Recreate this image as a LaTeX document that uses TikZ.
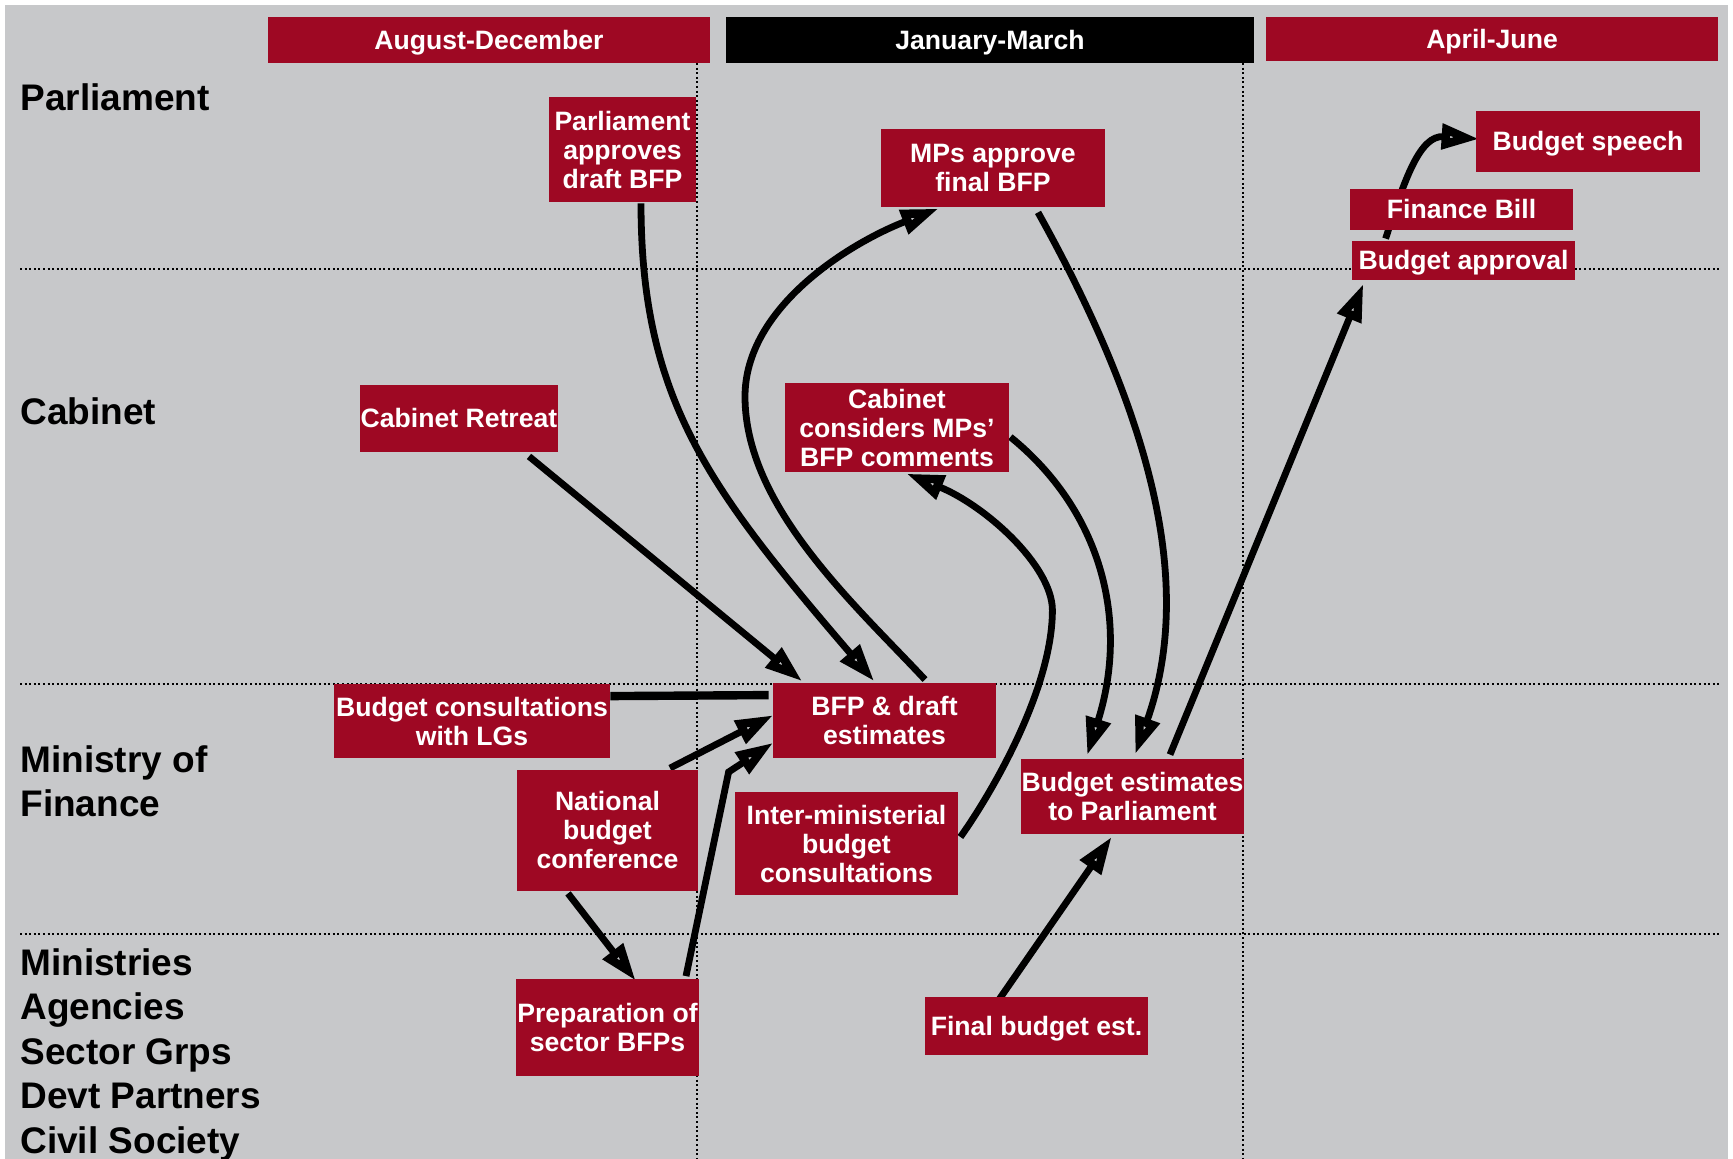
\documentclass[tikz,border=0pt]{standalone}
\usepackage{fontspec}
\setmainfont{Liberation Sans}
\usetikzlibrary{arrows.meta,calc}
\definecolor{bgray}{RGB}{199,200,202}
\definecolor{bred}{RGB}{158,8,35}
\pgfdeclarelayer{bg}
\pgfdeclarelayer{arr}
\pgfsetlayers{bg,arr,main}
\begin{document}
\begin{tikzpicture}[x=0.5pt,y=-0.5pt,
  box/.style={fill=bred, text=white, inner sep=0pt, align=center, font=\bfseries\fontsize{13.3}{14.5}\selectfont},
  oneline/.style={text height=9.5pt, text depth=0pt},
  hdr/.style={box, oneline},
  lbl/.style={anchor=base west, inner sep=0pt, font=\bfseries\fontsize{18.5}{22}\selectfont},
  dotline/.style={line width=1pt, dash pattern=on 1pt off 1.3pt},
  flow/.style={line width=3.4pt, -{Triangle[open,length=19pt,width=12pt,line width=4.2pt]}},
  plainflow/.style={line width=4.2pt},
]
\useasboundingbox (0,0) rectangle (1733,1159);
\begin{pgfonlayer}{bg}
\fill[white] (0,0) rectangle (1733,1159);
\fill[bgray] (5,5) rectangle (1728,1159);
\draw[dotline] (697,63) -- (697,1159);
\draw[dotline] (1243,63) -- (1243,1159);
\draw[dotline] (20,269) -- (1720,269);
\draw[dotline] (20,684) -- (1720,684);
\draw[dotline] (20,934) -- (1720,934);
\end{pgfonlayer}

% headers
\node[hdr, minimum width=221pt, minimum height=23pt] (h1) at (489,40) {August-December};
\node[hdr, fill=black, minimum width=264pt, minimum height=23pt] (h2) at (990,40) {January-March};
\node[hdr, minimum width=226pt, minimum height=22pt] (h3) at (1492,39) {April-June};

% row labels
\node[lbl] (rParl) at (20,111) {Parliament};
\node[lbl] (rCab) at (20,425) {Cabinet};
\node[lbl] (rMoF1) at (20,772) {Ministry of};
\node[lbl] (rMoF2) at (20,816) {Finance};
\node[lbl] (rM1) at (20,975) {Ministries};
\node[lbl] (rM2) at (20,1019.5) {Agencies};
\node[lbl] (rM3) at (20,1064) {Sector Grps};
\node[lbl] (rM4) at (20,1108.5) {Devt Partners};
\node[lbl] (rM5) at (20,1153) {Civil Society};

% boxes
\node[box, minimum width=73.5pt, minimum height=52.5pt] (parl) at (622.5,149.5) {Parliament\\approves\\draft BFP};
\node[box, minimum width=112pt, minimum height=39pt] (mps) at (993,168) {MPs approve\\final BFP};
\node[box, oneline, minimum width=112pt, minimum height=30.5pt] (speech) at (1588,141.5) {Budget speech};
\node[box, oneline, minimum width=111.5pt, minimum height=20.5pt] (fbill) at (1461.5,209.5) {Finance Bill};
\node[box, oneline, minimum width=111.5pt, minimum height=19.5pt] (bappr) at (1463.5,260.5) {Budget approval};
\node[box, oneline, minimum width=99pt, minimum height=33.5pt] (retreat) at (459,418.5) {Cabinet Retreat};
\node[box, minimum width=112pt, minimum height=44.5pt] (cabcons) at (897,427.5) {Cabinet\\considers MPs’\\BFP comments};
\node[box, minimum width=138pt, minimum height=37pt] (lgs) at (472,721) {Budget consultations\\with LGs};
\node[box, minimum width=111.5pt, minimum height=37.5pt] (bfp) at (884.5,720.5) {BFP \& draft\\estimates};
\node[box, minimum width=90.5pt, minimum height=60.5pt] (nbc) at (607.5,830) {National\\budget\\conference};
\node[box, minimum width=111.5pt, minimum height=51.5pt] (imbc) at (846.5,843.5) {Inter-ministerial\\budget\\consultations};
\node[box, minimum width=111.5pt, minimum height=37.5pt] (bepar) at (1132.5,796.5) {Budget estimates\\to Parliament};
\node[box, minimum width=91.5pt, minimum height=48.5pt] (prep) at (607.5,1027) {Preparation of\\sector BFPs};
\node[box, oneline, minimum width=111.5pt, minimum height=29pt] (final) at (1036.5,1026) {Final budget est.};

% connectors
\begin{pgfonlayer}{arr}
\draw[flow] ($(parl.south)+(18.5,1)$) .. controls ($(parl.south)+(18.5,198)$) and ($(bfp.north)+(-174.5,-193)$) .. ($(bfp.north)+(-10,-1)$);
\draw[flow] ($(bfp.north)+(40.5,-3)$) .. controls ($(bfp.north)+(-29.5,-78)$) and ($(bfp.north)+(-139.5,-176)$) .. ($(bfp.north)+(-139.5,-286)$)
  .. controls ($(mps.south)+(-248,100)$) and ($(mps.south)+(-144,36)$) .. ($(mps.south)+(-54,1)$);
\draw[flow] ($(retreat.south)+(70,4)$) -- ($(bfp.north west)+(30,-1)$);
\draw[plainflow] ($(lgs.north east)+(0,12.5)$) -- ($(bfp.north west)+(-4,12.5)$);
\draw[flow] ($(nbc.north)+(62.5,-1)$) -- ($(bfp.west)+(1,-5.5)$);
\draw[flow] ($(prep.north)+(78.5,-2)$) -- ($(bfp.west)+(-44,51.5)$) -- ($(bfp.west)+(1,22)$);
\draw[flow] ($(nbc.south)+(-39.5,2.5)$) -- ($(prep.north)+(28.5,3)$);
\draw[flow] ($(imbc.east)+(2,-6.5)$) .. controls ($(imbc.east)+(32,-48.5)$) and ($(imbc.east)+(94,-153.5)$) .. ($(imbc.east)+(94,-233.5)$)
  .. controls ($(cabcons.south)+(155,93)$) and ($(cabcons.south)+(88,33)$) .. ($(cabcons.south)+(9,1)$);
\draw[flow] ($(cabcons.east)+(1,9.5)$) .. controls ($(cabcons.east)+(91,82.5)$) and ($(bepar.north)+(-2.5,-139)$) .. ($(bepar.north)+(-45.5,-3)$);
\draw[flow] ($(mps.south)+(45,5)$) .. controls ($(mps.south)+(172,233)$) and ($(bepar.north)+(57.5,-159)$) .. ($(bepar.north)+(2.5,-4)$);
\draw[flow] ($(bepar.north)+(37.5,-4)$) -- ($(bappr.south west)+(12,3)$);
\draw[flow] ($(final.north)+(-37.5,3)$) -- ($(bepar.south)+(-20.5,2)$);
\draw[flow] ($(bappr.north west)+(34,-2)$) .. controls ($(fbill.north west)+(55,-9)$) and ($(speech.west)+(-56,-6.5)$) .. ($(speech.west)+(4,-2.5)$);
\end{pgfonlayer}
\end{tikzpicture}
\end{document}
